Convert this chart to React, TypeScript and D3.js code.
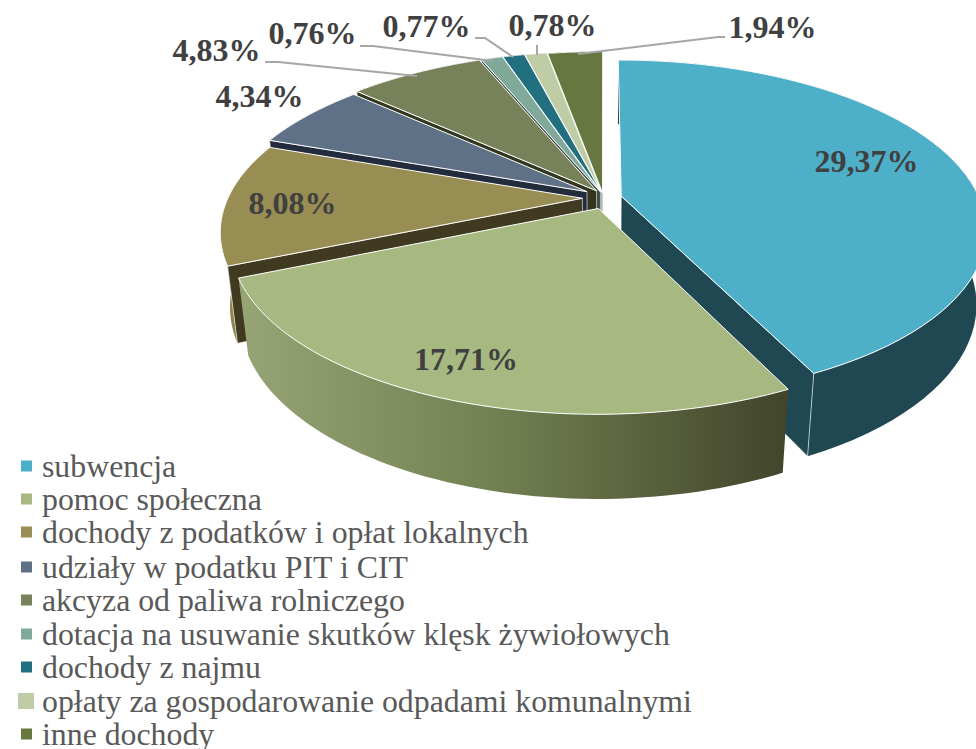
import React from "react";
import * as d3 from "d3";

const categories = [
  "subwencja",
  "pomoc społeczna",
  "dochody z podatków i opłat lokalnych",
  "udziały w podatku PIT i CIT",
  "akcyza od paliwa rolniczego",
  "dotacja na usuwanie skutków klęsk żywiołowych",
  "dochody z najmu",
  "opłaty za gospodarowanie odpadami komunalnymi",
  "inne dochody",
];
const shares = [29.37, 17.71, 8.08, 4.34, 4.83, 0.76, 0.77, 0.78, 1.94];
const topColors = ["#4DAFC8", "#A7B980", "#988D53", "#5F7186", "#78825A", "#80A99A", "#22707F", "#C0CCA6", "#66773F"];
const radialWallColors = ["#1F4852", "#3F3A20", "#3F3A20", "#232C3C", "#333720", "#3A4A44", "#123840", "#55604A", "#333A20"];
const rimWallColors = ["#1F4852", "#7A8A5C", "#8C8050", "#4A586A", "#5E6644", "#5E7E72", "#1A5562", "#8A9578", "#4C5930"];
const explode = [0.05, 0.034, 0.055, 0.05, 0.03, 0.02, 0.018, 0.016, 0.012];
const radiusScale = [0.955, 0.955, 0.945, 0.965, 0.99, 1, 1, 1, 1];
const nudgeY = [3, 8, 3, 1, 0, 0, 0, 0, 0];
const paintOrder = [0, 8, 7, 6, 5, 4, 3, 2, 1];
// which radial cut face of each slice faces the viewer
const visibleWall = ["end", "none", "start", "start", "start", "start", "start", "start", "start"];
const labelTexts = ["29,37%", "17,71%", "8,08%", "4,34%", "4,83%", "0,76%", "0,77%", "0,78%", "1,94%"];
const labelX = [866.5, 466, 292.5, 259.5, 216.5, 312.5, 426.5, 552.5, 772.5];
const labelY = [172, 370, 214, 107, 61, 44, 37, 36, 38];
const leaders: [number, number][][] = [
  [[265, 62], [278, 62], [417, 76]],
  [[360, 46], [373, 46], [493, 61]],
  [[475, 38], [485, 38], [513, 57]],
  [[537, 45], [537, 55]],
  [[725, 37], [718, 37], [578, 54]],
];
const legendBaselines = [477, 510, 543, 578, 611, 645, 678, 712, 745];

const CX = 603, CY = 195, R = 375, H = 171, K = 0.204, DEPTH = 75, ZS = 0.025;

function project(u: number, v: number, z: number, dy = 0): [number, number] {
  const s = 1 / (1 - K * v + ZS * z);
  return [CX + R * u * s, CY + dy + (H * v + DEPTH * z) * s];
}

const arcs = d3.pie<number>().sort(null).startAngle(0).endAngle(2 * Math.PI)(shares);
const line = d3.line<[number, number]>();

function geometry(i: number) {
  const a = arcs[i].startAngle, b = arcs[i].endAngle, mid = (a + b) / 2;
  const ox = explode[i] * Math.sin(mid), oy = -explode[i] * Math.cos(mid);
  const r = radiusScale[i];
  const pt = (t: number, z: number) => project(ox + r * Math.sin(t), oy - r * Math.cos(t), z, nudgeY[i]);
  const tip = (z: number) => project(ox, oy, z, nudgeY[i]);
  const ts = d3.range(0, 61).map((k) => a + ((b - a) * k) / 60);
  const top: [number, number][] = [tip(0), ...ts.map((t) => pt(t, 0))];
  const rim: [number, number][] = [...ts.map((t) => pt(t, 0)), ...ts.slice().reverse().map((t) => pt(t, 1))];
  const wallA: [number, number][] = [tip(0), pt(a, 0), pt(a, 1), tip(1)];
  const wallB: [number, number][] = [tip(0), pt(b, 0), pt(b, 1), tip(1)];
  const wall = visibleWall[i] === "start" ? wallA : visibleWall[i] === "end" ? wallB : null;
  return { top, rim, wall };
}

export default function App() {
  return (
    <svg
      width={976}
      height={749}
      style={{ position: "absolute", left: 0, top: 0, background: "#fff", overflow: "hidden" }}
    >
      <defs>
        <linearGradient id="wall2" gradientUnits="userSpaceOnUse" x1={240} x2={790} y1={0} y2={0}>
          <stop offset="0" stopColor="#97A576" />
          <stop offset="0.45" stopColor="#738253" />
          <stop offset="1" stopColor="#41442A" />
        </linearGradient>
        <linearGradient id="wall3" gradientUnits="userSpaceOnUse" x1={220} x2={245} y1={0} y2={0}>
          <stop offset="0" stopColor="#988D53" />
          <stop offset="1" stopColor="#857849" />
        </linearGradient>
      </defs>
      {paintOrder.map((i) => {
        const g = geometry(i);
        const rimFill = i === 1 ? "url(#wall2)" : i === 2 ? "url(#wall3)" : rimWallColors[i];
        return (
          <g key={i}>
            <path d={line(g.rim) + "Z"} fill={rimFill} stroke="none" />
            {g.wall && <path d={line(g.wall) + "Z"} fill={radialWallColors[i]} stroke="#fff" strokeWidth={0.6} />}
            <path d={line(g.top) + "Z"} fill={topColors[i]} stroke="#fff" strokeWidth={1} strokeLinejoin="round" />
          </g>
        );
      })}
      {leaders.map((pts, i) => (
        <path key={i} d={line(pts) ?? ""} fill="none" stroke="#A6A6A6" strokeWidth={2} />
      ))}
      {labelTexts.map((t, i) => (
        <text
          key={t}
          x={labelX[i]}
          y={labelY[i]}
          textAnchor="middle"
          fontFamily="'Liberation Serif', serif"
          fontWeight="bold"
          fontSize={32}
          fill="#404040"
        >
          {t}
        </text>
      ))}
      {categories.map((c, i) => {
        const big = i === 7;
        const size = big ? 16 : 11;
        return (
          <g key={c}>
            <rect
              x={big ? 18 : 21}
              y={legendBaselines[i] - 11 - size / 2}
              width={size}
              height={size}
              fill={topColors[i]}
            />
            <text
              x={42}
              y={legendBaselines[i]}
              fontFamily="'Liberation Serif', serif"
              fontSize={31.8}
              fill="#595959"
            >
              {c}
            </text>
          </g>
        );
      })}
    </svg>
  );
}
